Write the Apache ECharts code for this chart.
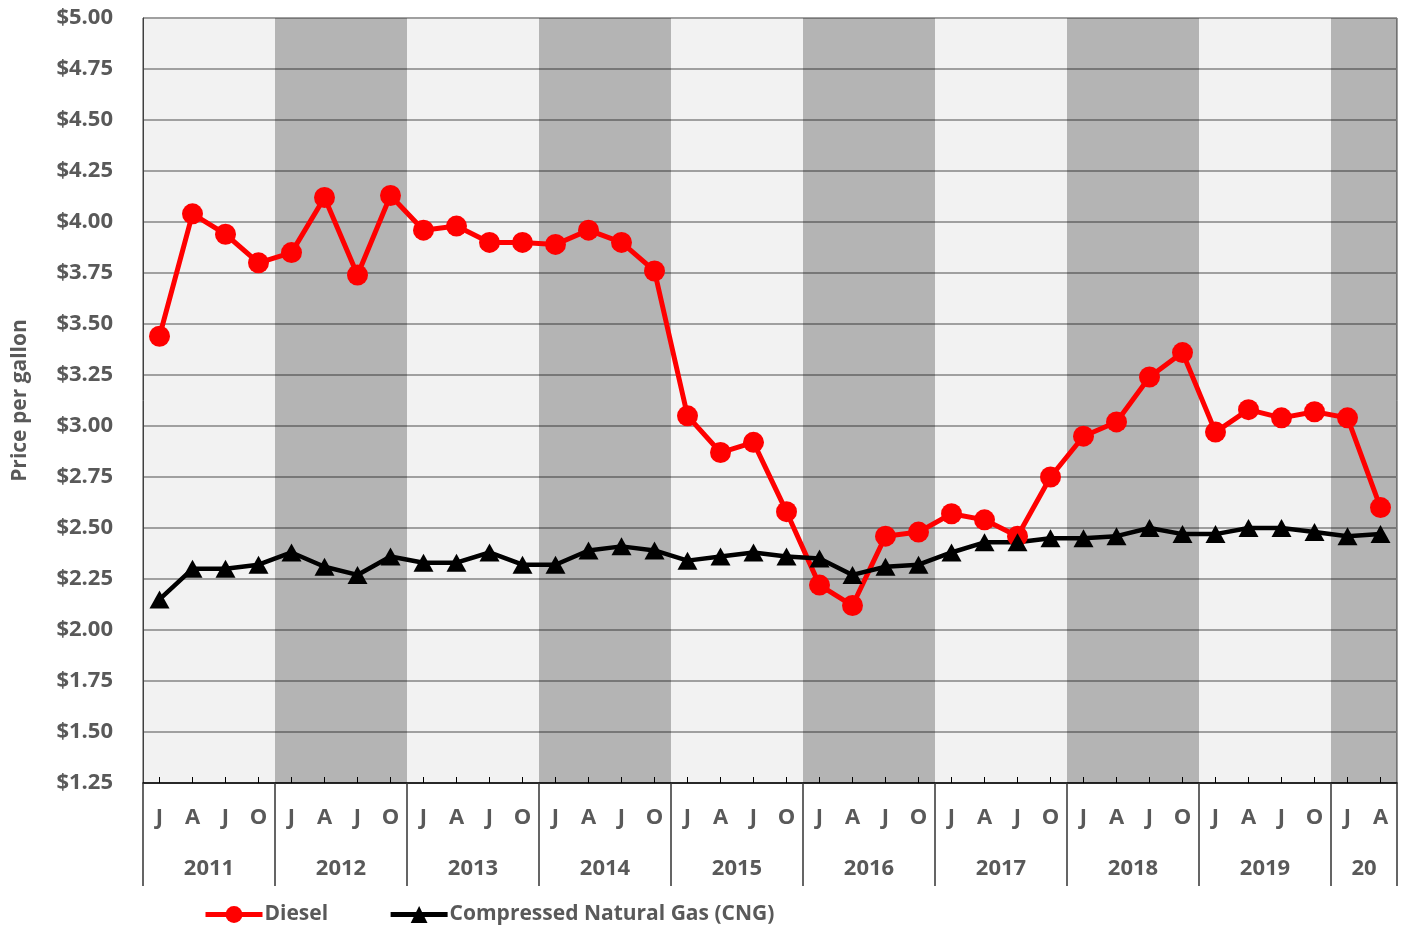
<!DOCTYPE html>
<html lang="en">
<head>
    <meta charset="UTF-8">
    <title>Diesel vs CNG price per gallon</title>
    <script src="https://cdn.jsdelivr.net/npm/echarts@6/dist/echarts.min.js"></script>
    <style>
        html, body {
            margin: 0;
            padding: 0;
            background: #ffffff;
        }
        #chart {
            width: 1402px;
            height: 926px;
        }
    </style>
</head>
<body>
    <div id="chart"></div>
    <script>
        // quarter letters, 2011 Q1 .. 2020 Q2
        var quarters = [
            'J','A','J','O', 'J','A','J','O', 'J','A','J','O', 'J','A','J','O', 'J','A','J','O',
            'J','A','J','O', 'J','A','J','O', 'J','A','J','O', 'J','A','J','O', 'J','A'
        ];
        var years = ['2011','2012','2013','2014','2015','2016','2017','2018','2019','20'];
        var quartersPerYear = [4, 4, 4, 4, 4, 4, 4, 4, 4, 2];
        var shadedYears = ['2012', '2014', '2016', '2018', '20'];

        var diesel = [
            3.44, 4.04, 3.94, 3.80, 3.85, 4.12, 3.74, 4.13, 3.96, 3.98, 3.90, 3.90,
            3.89, 3.96, 3.90, 3.76, 3.05, 2.87, 2.92, 2.58, 2.22, 2.12, 2.46, 2.48,
            2.57, 2.54, 2.46, 2.75, 2.95, 3.02, 3.24, 3.36, 2.97, 3.08, 3.04, 3.07,
            3.04, 2.60
        ];
        var cng = [
            2.15, 2.30, 2.30, 2.32, 2.38, 2.31, 2.27, 2.36, 2.33, 2.33, 2.38, 2.32,
            2.32, 2.39, 2.41, 2.39, 2.34, 2.36, 2.38, 2.36, 2.35, 2.27, 2.31, 2.32,
            2.38, 2.43, 2.43, 2.45, 2.45, 2.46, 2.50, 2.47, 2.47, 2.50, 2.50, 2.48,
            2.46, 2.47
        ];

        var yMin = 1.25, yMax = 5.00, yStep = 0.25;

        // year start / centre positions on the 0..38 scale
        var yearStart = [], yearCenter = {};
        var pos = 0;
        years.forEach(function (y, i) {
            yearStart.push(pos);
            yearCenter[pos + quartersPerYear[i] / 2] = y;
            pos += quartersPerYear[i];
        });
        var nQ = quarters.length;

        var bands = [];
        years.forEach(function (y, i) {
            if (shadedYears.indexOf(y) >= 0) {
                bands.push([{ xAxis: yearStart[i] }, { xAxis: yearStart[i] + quartersPerYear[i] }]);
            }
        });

        var gray = '#595959';
        var font = '"Open Sans", sans-serif';

        var chart = echarts.init(document.getElementById('chart'));
        chart.setOption({
            animation: false,
            grid: {
                left: 143, top: 18, right: 5, bottom: 143,
                show: true,
                backgroundColor: '#f2f2f2',
                borderColor: '#404040',
                borderWidth: 1
            },
            legend: {
                left: 198, top: 899,
                itemWidth: 57, itemHeight: 21, itemGap: 60,
                lineStyle: { width: 5 },
                textStyle: { color: gray, fontFamily: font, fontWeight: 'bold', fontSize: 21, padding: [0, 0, 0, -3] },
                data: ['Diesel', 'Compressed Natural Gas (CNG)']
            },
            xAxis: [
                {
                    // position scale for the data
                    type: 'value', min: 0, max: nQ, position: 'bottom',
                    axisLine: { show: false }, axisTick: { show: false },
                    axisLabel: { show: false }, splitLine: { show: false }
                },
                {
                    // quarter letters
                    type: 'category', data: quarters, boundaryGap: true, position: 'bottom',
                    axisLine: { show: true, lineStyle: { color: '#000', width: 1.5 } },
                    axisTick: { show: true, inside: true, alignWithLabel: true, length: 6, lineStyle: { color: '#000' } },
                    axisLabel: { interval: 0, margin: 24, color: gray, fontFamily: font, fontWeight: 'bold', fontSize: 22 },
                    splitLine: { show: false }
                },
                {
                    // year labels
                    type: 'value', min: 0, max: nQ, interval: 1, position: 'bottom',
                    axisLine: { show: false }, axisTick: { show: false }, splitLine: { show: false },
                    axisLabel: {
                        margin: 75, color: gray, fontFamily: font, fontWeight: 'bold', fontSize: 22,
                        showMinLabel: false, showMaxLabel: false,
                        formatter: function (v) { return yearCenter[v] || ''; }
                    }
                },
                {
                    // year separators
                    type: 'value', min: 0, max: nQ, interval: 4, position: 'bottom',
                    axisLine: { show: false }, axisLabel: { show: false }, splitLine: { show: false },
                    axisTick: { show: true, inside: false, length: 103, lineStyle: { color: '#333', width: 1.5 } }
                }
            ],
            yAxis: {
                type: 'value', min: yMin, max: yMax, interval: yStep,
                name: 'Price per gallon', nameLocation: 'middle', nameGap: 112,
                nameTextStyle: { color: gray, fontFamily: font, fontWeight: 'bold', fontSize: 21 },
                axisLine: { show: true, lineStyle: { color: '#404040' } },
                axisTick: { show: false },
                axisLabel: {
                    margin: 30, color: gray, fontFamily: font, fontWeight: 'bold', fontSize: 22,
                    formatter: function (v) { return '$' + v.toFixed(2); }
                },
                splitLine: { show: true, lineStyle: { color: '#a0a0a0', width: 2 } }
            },
            series: [
                {
                    name: 'Diesel', type: 'line', xAxisIndex: 0,
                    data: diesel.map(function (v, i) { return [i + 0.5, v]; }),
                    symbol: 'circle', symbolSize: 21,
                    itemStyle: { color: '#ff0000' },
                    lineStyle: { color: '#ff0000', width: 5 },
                    markArea: {
                        silent: true,
                        itemStyle: { color: 'rgba(0,0,0,0.255)' },
                        data: bands
                    }
                },
                {
                    name: 'Compressed Natural Gas (CNG)', type: 'line', xAxisIndex: 0,
                    data: cng.map(function (v, i) { return [i + 0.5, v]; }),
                    symbol: 'triangle', symbolSize: [20, 18],
                    itemStyle: { color: '#000000' },
                    lineStyle: { color: '#000000', width: 4.5 }
                }
            ]
        });
    </script>
</body>
</html>
